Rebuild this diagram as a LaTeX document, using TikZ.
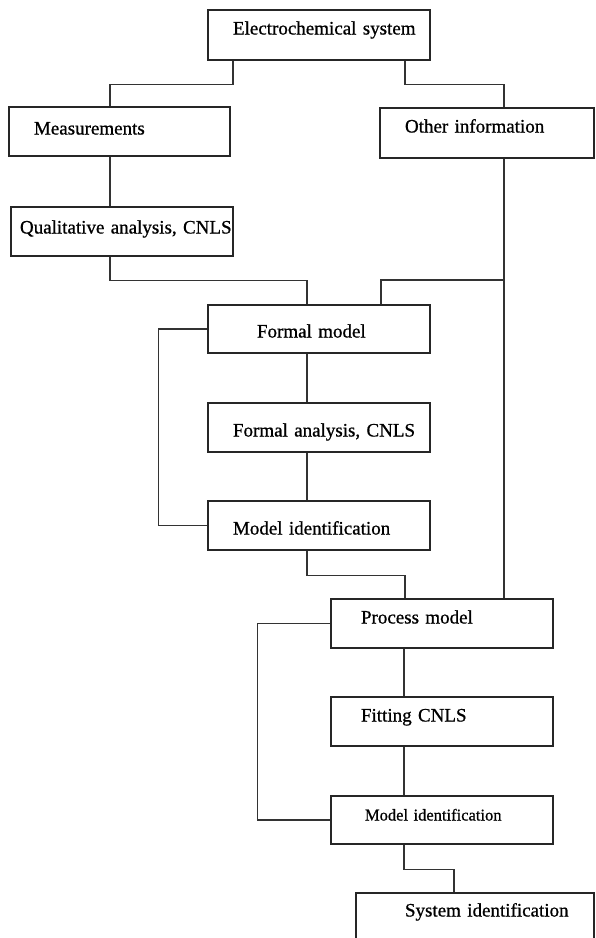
\documentclass[tikz,border=0pt]{standalone}
\usepackage{fontspec}
\setmainfont{Liberation Serif}[BoldFont={Liberation Serif}, BoldFeatures={FakeBold=0.8}]
\usetikzlibrary{positioning}

% text inside a box: left offset, raise, words
\newcommand{\boxtxt}[3]{\hspace*{#1}\raisebox{#2}{#3}}

\begin{document}
\begin{tikzpicture}[
    x=1pt, y=-1pt,
    blk/.style={rectangle, draw=black!85, line width=1.5pt, inner xsep=0pt, inner ysep=0pt, text width=#1, align=left, minimum height=49pt, text height=13pt, text depth=4pt, font=\fontsize{19}{22}\selectfont\bfseries},
    blk/.default=222pt,
    link/.style={draw=black!80, line width=1.35pt}
]
    \useasboundingbox (0,0) rectangle (595,938);
    \clip (0,0) rectangle (595,938);

    % Top row
    \node[blk, minimum height=50pt] (esys) at (319,35) {\boxtxt{25pt}{5pt}{Electrochemical system}};
    \node[blk=221pt] (meas) at (119.5,131.5) {\boxtxt{25pt}{1.5pt}{Measurements}};
    \node[blk=214pt, minimum height=50pt] (other) at (487,133) {\boxtxt{25pt}{5pt}{Other information}};
    \node[blk] (qual) at (122,231.5) {\boxtxt{9pt}{2.5pt}{Qualitative analysis, CNLS}};

    % Formal model block
    \node[blk, minimum height=48pt] (fmod) at (319,329) {\boxtxt{49pt}{-4pt}{Formal model}};
    \node[blk] (fana) at (319,427.5) {\boxtxt{25pt}{-4.5pt}{Formal analysis, CNLS}};
    \node[blk] (mid1) at (319,525.5) {\boxtxt{25pt}{-4.5pt}{Model identification}};

    % Process model block
    \node[blk] (pmod) at (442,623.5) {\boxtxt{30pt}{4.5pt}{Process model}};
    \node[blk] (fit) at (442,721.5) {\boxtxt{30pt}{4.5pt}{Fitting CNLS}};
    \node[blk, minimum height=48pt, font=\fontsize{16.5}{20}\selectfont\bfseries] (mid2) at (442,820) {\boxtxt{34pt}{4pt}{Model identification}};
    \node[blk=238pt] (sysid) at (475,917.5) {\boxtxt{49pt}{5.5pt}{System identification}};

    % Connectors
    \draw[link] (esys.south -| 233,0) -- ++(0,24) -| (meas.north -| 110,0);
    \draw[link] (esys.south -| 405,0) -- ++(0,24) -| (other.north -| 504,0);
    \draw[link] (meas.south -| 110,0) -- (qual.north -| 110,0);
    \draw[link] (qual.south -| 110,0) -- ++(0,24) -| (fmod.north -| 307,0);
    \coordinate (tap) at (504,280);
    \draw[link] (other.south -| 504,0) -- (pmod.north -| 504,0);
    \draw[link] (tap) -| (fmod.north -| 381,0);

    \draw[link] (fmod.west) -- ++(-49,0) |- (mid1.west);
    \draw[link] (fmod.south -| 307,0) -- (fana.north -| 307,0);
    \draw[link] (fana.south -| 307,0) -- (mid1.north -| 307,0);
    \draw[link] (mid1.south -| 307,0) -- ++(0,25) -| (pmod.north -| 405,0);

    \draw[link] (pmod.west) -- ++(-73,0) |- (mid2.west);
    \draw[link] (pmod.south -| 404,0) -- (fit.north -| 404,0);
    \draw[link] (fit.south -| 404,0) -- (mid2.north -| 404,0);
    \draw[link] (mid2.south -| 404,0) -- ++(0,25) -| (sysid.north -| 454,0);
\end{tikzpicture}
\end{document}
